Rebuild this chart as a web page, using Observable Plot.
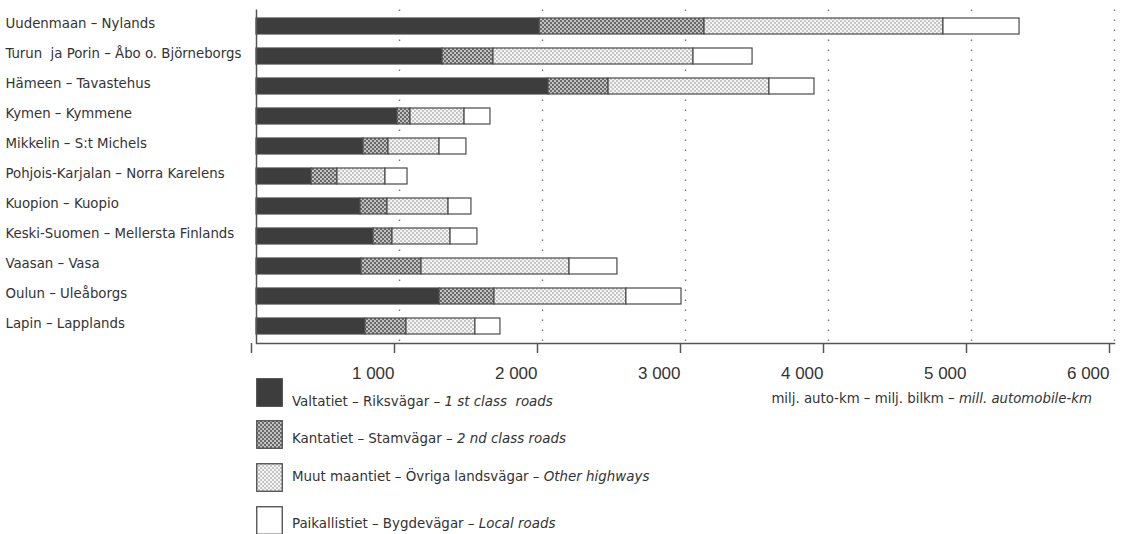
<!DOCTYPE html>
<html>
<head>
<meta charset="utf-8">
<script src="https://cdn.jsdelivr.net/npm/d3@7"></script>
<script src="https://cdn.jsdelivr.net/npm/@observablehq/plot@0.6"></script>
<style>
  body { margin: 0; background: #fff; }
  #wrap { position: relative; width: 1128px; height: 534px; overflow: hidden;
          font-family: "Liberation Sans Narrow", "DejaVu Sans Condensed", sans-serif; color: #333; }
  .leg { position: absolute; left: 256px; }
  .leg svg { display: block; }
  .unit { position: absolute; right: 36px; top: 389px; font-size: 14.8px; white-space: nowrap; }
  i { font-style: italic; }
</style>
</head>
<body>
<div id="wrap"></div>
<script>
// ---- data (mill. automobile-km) ----
const regions = [
  "Uudenmaan – Nylands",
  "Turun  ja Porin – Åbo o. Björneborgs",
  "Hämeen – Tavastehus",
  "Kymen – Kymmene",
  "Mikkelin – S:t Michels",
  "Pohjois-Karjalan – Norra Karelens",
  "Kuopion – Kuopio",
  "Keski-Suomen – Mellersta Finlands",
  "Vaasan – Vasa",
  "Oulun – Uleåborgs",
  "Lapin – Lapplands"
];
const valtatiet     = [1980, 1301, 2042, 986, 748, 385, 727, 818, 734, 1280, 762];
const kantatiet     = [1153,  356,  420,  91, 175, 181, 189, 133, 420,  384, 287];
const muutMaantiet  = [1671, 1399, 1125, 378, 357, 336, 427, 406, 1035, 923, 482];
const paikallistiet = [ 532,  413,  315, 181, 188, 154, 160, 188,  335, 385, 175];

const roadTypes = ["Valtatiet", "Kantatiet", "Muut maantiet", "Paikallistiet"];
const xTicks = [0, 1000, 2000, 3000, 4000, 5000, 6000];
const tickLabels = ["", "1 000", "2 000", "3 000", "4 000", "5 000", "6 000"];

const series = [valtatiet, kantatiet, muutMaantiet, paikallistiet];
const table = [];
regions.forEach((r, i) => roadTypes.forEach((t, j) => table.push({region: r, type: t, value: series[j][i]})));

const fills = ["#3d3d3d", "url(#pMed)", "url(#pLight)", "#ffffff"];

const svg = Plot.plot({
  width: 1128,
  height: 534,
  marginLeft: 256,
  marginRight: 14,
  marginTop: 9.5,
  marginBottom: 191,
  style: {fontFamily: "'Liberation Sans Narrow', 'DejaVu Sans Condensed', sans-serif", fontSize: "15px", color: "#333", background: "#fff"},
  x: {domain: [0, 6000], axis: null},
  y: {domain: regions, axis: null, paddingInner: 0.4745, paddingOuter: 0.213},
  color: {domain: roadTypes, range: fills},
  marks: [
    Plot.ruleX(xTicks.slice(1), {stroke: "#777", strokeWidth: 1.4, strokeDasharray: "1.4,8.6", strokeLinecap: "butt"}),
    Plot.barX(table, {y: "region", x: "value", fill: "type", stroke: "#4a4a4a", strokeWidth: 1.2}),
    Plot.ruleX([0], {stroke: "#555", strokeWidth: 1.5}),
    Plot.frame({anchor: "bottom", stroke: "#555", strokeWidth: 1.5}),
    Plot.axisX({ticks: xTicks, tickSize: 10, tickPadding: 13, textAnchor: "end", dx: -5,
                tickFormat: d => tickLabels[xTicks.indexOf(d)], fontSize: 17,
                fontFamily: "'Liberation Sans', Arial, sans-serif", letterSpacing: "2.8px",
                stroke: "#555", strokeWidth: 1.5, label: null}),
    Plot.text(regions, {y: d => d, text: d => d, frameAnchor: "left", textAnchor: "start", dx: -251, dy: -3, fontSize: 14.8, fill: "#333"})
  ]
});

d3.select(svg).insert("defs", ":first-child").html(`
  <pattern id="pMed" width="4" height="4" patternUnits="userSpaceOnUse">
    <rect width="4" height="4" fill="#c2c2c2"/>
    <rect width="2" height="2" fill="#6a6a6a"/>
    <rect x="2" y="2" width="2" height="2" fill="#6a6a6a"/>
  </pattern>
  <pattern id="pLight" width="4" height="4" patternUnits="userSpaceOnUse">
    <rect width="4" height="4" fill="#f4f4f4"/>
    <rect width="2" height="2" fill="#c6c6c6"/>
    <rect x="2" y="2" width="2" height="2" fill="#c6c6c6"/>
  </pattern>`);

const wrap = document.getElementById("wrap");
wrap.appendChild(svg);
svg.style.position = "absolute";
svg.style.left = "0";
svg.style.top = "0";

// ---- legend ----
const legendLabels = [
  ["Valtatiet – Riksvägar – ", "1 st class  roads"],
  ["Kantatiet – Stamvägar – ", "2 nd class roads"],
  ["Muut maantiet – Övriga landsvägar – ", "Other highways"],
  ["Paikallistiet – Bygdevägar – ", "Local roads"]
];
const legTops = [378, 420, 463, 506];
const textTops = [392, 429, 467, 514];
roadTypes.forEach((t, i) => {
  const d = document.createElement("div");
  d.className = "leg";
  d.style.top = legTops[i] + "px";
  d.innerHTML = `<svg width="27" height="29"><rect x="0.75" y="0.75" width="25.5" height="27.5" fill="${fills[i]}" stroke="#4a4a4a" stroke-width="1.3"/></svg>`;
  wrap.appendChild(d);
  const s = document.createElement("div");
  s.style.position = "absolute";
  s.style.left = "292px";
  s.style.top = textTops[i] + "px";
  s.style.fontSize = "14.9px";
  s.style.whiteSpace = "pre";
  s.innerHTML = `${legendLabels[i][0]}<i>${legendLabels[i][1]}</i>`;
  wrap.appendChild(s);
});
const u = document.createElement("div");
u.className = "unit";
u.innerHTML = "milj. auto-km – milj. bilkm – <i>mill. automobile-km</i>";
wrap.appendChild(u);
</script>
</body>
</html>
